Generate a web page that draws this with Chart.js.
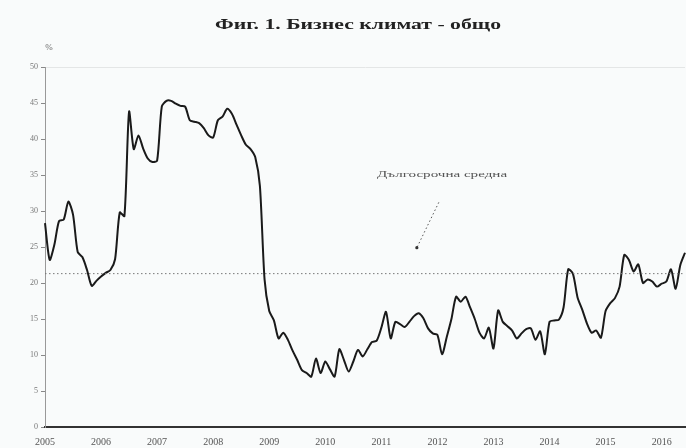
<!DOCTYPE html>
<html>
<head>
<meta charset="utf-8">
<script src="https://cdn.jsdelivr.net/npm/chart.js@4/dist/chart.umd.min.js"></script>
<style>
  html, body { margin: 0; padding: 0; background: #f9fbfb; }
  #wrap { width: 686px; height: 448px; position: relative; }
</style>
</head>
<body>
<div id="wrap"><canvas id="c"></canvas></div>
<script>
// месечни стойности, януари 2005 - юни 2016
const years = [2005, 2006, 2007, 2008, 2009, 2010, 2011, 2012, 2013, 2014, 2015, 2016];
const climate = [
  28.3, 23.2, 25.3, 28.6, 28.8, 31.3, 29.5, 24.3, 23.6, 21.8, 19.6, 20.3,
  20.9, 21.4, 21.8, 23.3, 29.8, 29.3, 43.8, 38.6, 40.5, 38.7, 37.3, 36.8,
  37.0, 44.5, 45.3, 45.3, 44.9, 44.6, 44.5, 42.6, 42.4, 42.2, 41.5, 40.5,
  40.2, 42.6, 43.1, 44.2, 43.5, 42.0, 40.5, 39.2, 38.6, 37.5, 33.5, 20.5,
  16.1, 14.8, 12.3, 13.1, 12.1, 10.6, 9.3, 7.9, 7.5, 7.0, 9.5, 7.5,
  9.1, 8.0, 7.0, 10.8, 9.3, 7.7, 9.1, 10.7, 9.8, 10.8, 11.8, 12.0,
  13.8, 16.0, 12.3, 14.6, 14.3, 13.9, 14.6, 15.4, 15.8, 15.1, 13.7, 13.0,
  12.8, 10.1, 12.5, 15.0, 18.1, 17.4, 18.1, 16.6, 15.0, 13.1, 12.3, 13.8,
  10.9, 16.2, 14.6, 14.0, 13.4, 12.3, 13.0, 13.6, 13.7, 12.1, 13.3, 10.1,
  14.6, 14.8, 14.9, 16.6, 21.9, 21.3, 18.0, 16.3, 14.4, 13.1, 13.4, 12.4,
  16.1, 17.2, 17.9, 19.5, 23.9, 23.2, 21.6, 22.6, 20.0, 20.5, 20.2, 19.5,
  19.9, 20.2, 21.9, 19.2, 22.5, 24.2
];
const longTermAvg = 21.3;
const yTicks = [0, 5, 10, 15, 20, 25, 30, 35, 40, 45, 50];

const labels = climate.map((v, i) => {
  const y = years[0] + Math.floor(i / 12);
  const m = i % 12 + 1;
  return y + '-' + (m < 10 ? '0' + m : m);
});

// текст, разтеглен хоризонтално до дадена ширина (като сканираното)
function stretchText(ctx, text, cx, cy, w) {
  const tw = ctx.measureText(text).width;
  ctx.save();
  ctx.translate(cx, cy);
  ctx.scale(w / tw, 1);
  ctx.fillText(text, 0, 0);
  ctx.restore();
}

const extras = {
  id: 'extras',
  afterDraw(chart) {
    const ctx = chart.ctx;
    const xs = chart.scales.x, ys = chart.scales.y;
    const area = chart.chartArea;
    ctx.save();
    ctx.textAlign = 'center';
    ctx.textBaseline = 'middle';

    // заглавие
    ctx.fillStyle = '#222';
    ctx.font = 'bold 15px "Liberation Serif", serif';
    stretchText(ctx, 'Фиг. 1. Бизнес климат - общо', 358, 25, 286);

    ctx.font = '9px "Liberation Serif", serif';
    ctx.fillStyle = '#666';
    ctx.fillText('%', 49, 48);

    // дългосрочна средна
    const ay = ys.getPixelForValue(longTermAvg);
    ctx.strokeStyle = '#777';
    ctx.lineWidth = 1;
    ctx.setLineDash([1.5, 2.5]);
    ctx.beginPath();
    ctx.moveTo(area.left, ay);
    ctx.lineTo(area.right, ay);
    ctx.stroke();

    // стрелка към линията
    const x1 = xs.getPixelForValue(84.3), y1 = ys.getPixelForValue(31.2);
    const x2 = xs.getPixelForValue(79.6), y2 = ys.getPixelForValue(24.9);
    ctx.strokeStyle = '#555';
    ctx.beginPath();
    ctx.moveTo(x1, y1);
    ctx.lineTo(x2, y2);
    ctx.stroke();
    ctx.setLineDash([]);
    ctx.fillStyle = '#333';
    ctx.beginPath();
    ctx.arc(x2, y2, 1.6, 0, Math.PI * 2);
    ctx.fill();

    ctx.font = '9px "Liberation Serif", serif';
    ctx.fillStyle = '#555';
    stretchText(ctx, 'Дългосрочна средна', xs.getPixelForValue(85), ys.getPixelForValue(35.1), 130);
    ctx.restore();
  }
};

new Chart(document.getElementById('c'), {
  type: 'line',
  data: {
    labels: labels,
    datasets: [{
      data: climate,
      borderColor: '#1a1a1a',
      borderWidth: 2,
      pointRadius: 0,
      tension: 0.25,
      fill: false
    }]
  },
  options: {
    responsive: true,
    maintainAspectRatio: false,
    animation: false,
    layout: { padding: { top: 67, right: -4, bottom: 0, left: 0 } },
    plugins: { legend: { display: false }, title: { display: false }, tooltip: { enabled: false } },
    scales: {
      x: {
        type: 'category',
        offset: false,
        grid: { display: false },
        border: { color: '#333', width: 2 },
        afterFit(s) { s.height = 21; },
        ticks: {
          autoSkip: false,
          maxRotation: 0,
          padding: 1,
          color: '#555',
          font: { family: '"Liberation Serif", serif', size: 10 },
          callback(v, i) { return i % 12 === 0 ? String(years[0] + i / 12) : ''; }
        }
      },
      y: {
        min: 0,
        max: 50,
        afterFit(s) { s.width = 45; },
        afterBuildTicks(s) { s.ticks = yTicks.map(v => ({ value: v })); },
        grid: {
          drawOnChartArea: true,
          tickLength: 4,
          color: ctx => ctx.tick && ctx.tick.value === 50 ? '#e4e6e6' : 'rgba(0,0,0,0)',
          tickColor: '#888'
        },
        border: { color: '#999', width: 1 },
        ticks: {
          padding: 3,
          color: '#777',
          font: { family: '"Liberation Serif", serif', size: 8 }
        }
      }
    }
  },
  plugins: [extras]
});
</script>
</body>
</html>
